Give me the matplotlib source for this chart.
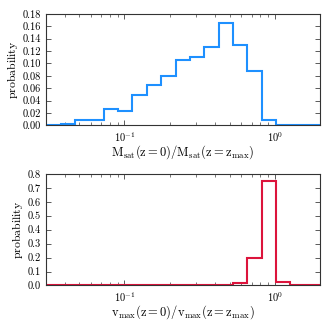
import numpy as np
import matplotlib
matplotlib.use("Agg")
from matplotlib import pyplot as plt

# shared log bins (log10 edges step ~0.0955 dex)
log_start = -1.52
log_step = 0.0955
n_edges = 21

# probability per bin
msat_prob = [0.0, 0.002, 0.0086, 0.0086, 0.027, 0.023, 0.0485, 0.065, 0.080,
             0.1056, 0.110, 0.127, 0.165, 0.129, 0.088, 0.0086, 0.0, 0.0, 0.0, 0.0]
vmax_prob = [0.0, 0.0, 0.0, 0.0, 0.0, 0.0, 0.0, 0.0, 0.0,
             0.0, 0.0, 0.0, 0.0, 0.021, 0.200, 0.751, 0.024, 0.005, 0.0, 0.0]

msat_yticks = [0.00, 0.02, 0.04, 0.06, 0.08, 0.10, 0.12, 0.14, 0.16, 0.18]
vmax_yticks = [0.0, 0.1, 0.2, 0.3, 0.4, 0.5, 0.6, 0.7, 0.8]

msat_label = r"$\mathrm{M_{sat}(z=0)/M_{sat}(z=z_{max})}$"
vmax_label = r"$\mathrm{v_{max}(z=0)/v_{max}(z=z_{max})}$"

plt.rcParams['font.family'] = 'serif'
plt.rcParams['font.serif'] = ['cmr10', 'DejaVu Serif']
plt.rcParams['mathtext.fontset'] = 'cm'
plt.rcParams['axes.formatter.use_mathtext'] = True

edges = 10 ** (log_start + log_step * np.arange(n_edges))
centers = np.sqrt(edges[:-1] * edges[1:])

fig = plt.figure(figsize=(3.3, 3.3), dpi=100)
ax1 = fig.add_axes([0.139, 0.620, 0.831, 0.338])
ax2 = fig.add_axes([0.139, 0.135, 0.831, 0.338])

def style(ax, yticks, fmt, xlabel):
    ax.set_xscale('log')
    ax.set_xlim(0.03, 2.0)
    ax.set_ylim(yticks[0], yticks[-1])
    ax.set_yticks(yticks)
    ax.set_yticklabels([fmt % t for t in yticks])
    ax.tick_params(which='both', direction='in', top=True, right=True,
                   labelsize=7.5, color='0.25')
    ax.tick_params(which='major', length=3.5, width=0.6)
    ax.tick_params(which='minor', length=2, width=0.5)
    for s in ax.spines.values():
        s.set_linewidth(0.8)
        s.set_color('0.2')
    ax.set_xlabel(xlabel, fontsize=9, labelpad=-0.5)
    ax.set_ylabel(r"$\mathrm{probability}$", fontsize=8.5, labelpad=2)

ax1.hist(centers, bins=edges, weights=msat_prob, histtype='step',
         color='#1e90ff', lw=1.5)
style(ax1, msat_yticks, '%.2f', msat_label)

ax2.hist(centers, bins=edges, weights=vmax_prob, histtype='step',
         color='#dc143c', lw=1.5)
style(ax2, vmax_yticks, '%.1f', vmax_label)

fig.savefig("out.png", dpi=100)
